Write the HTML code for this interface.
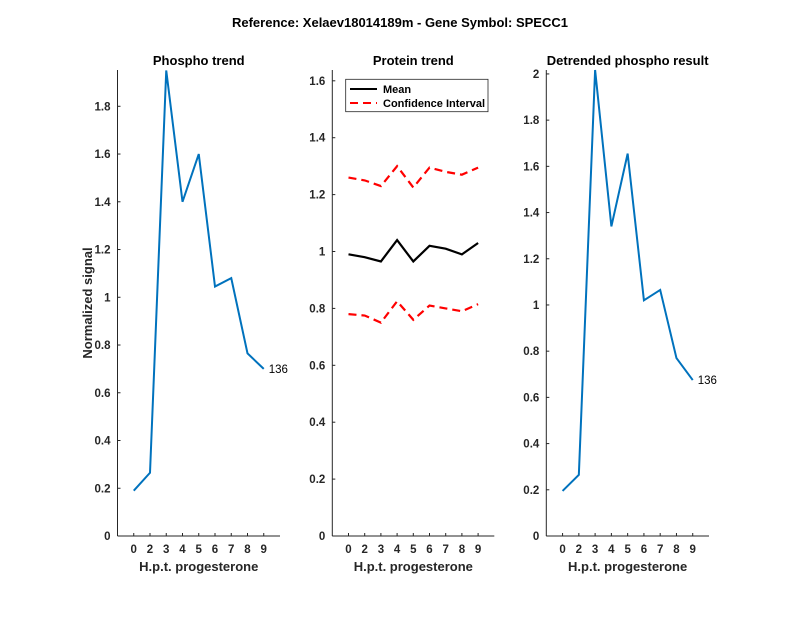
<!DOCTYPE html><html><head><meta charset="utf-8"><style>body{margin:0;background:#fff}svg{display:block;font-family:"Liberation Sans",sans-serif}</style></head><body>
<svg id="s" width="800" height="618" xmlns="http://www.w3.org/2000/svg">
<rect width="800" height="618" fill="#fff"/>
<text x="400" y="27" text-anchor="middle" font-size="13" font-weight="bold" fill="#000">Reference:  Xelaev18014189m - Gene Symbol:  SPECC1</text>
</svg>
<script>
const s=document.getElementById('s');let h='';
function P(o){const {L,R,B,T,ymax,step,nt,title}=o;const xs=i=>L+(R-L)*i/10, ys=v=>B-(B-T)*v/ymax;
h+=`<line x1="${L}" y1="${T}" x2="${L}" y2="${B}" stroke="#262626" stroke-width="1"/><line x1="${L}" y1="${B}" x2="${R}" y2="${B}" stroke="#262626"/>`;
for(let k=0;k<=nt;k++){const v=k*step,y=ys(v);let lab=(Math.round(v*10)/10).toString();
h+=`<line x1="${L}" y1="${y}" x2="${L+3}" y2="${y}" stroke="#262626"/><text x="${L-7}" y="${y+4}" text-anchor="end" font-size="11.5" font-weight="bold" fill="#262626">${lab}</text>`;}
['0','2','3','4','5','6','7','8','9'].forEach((t,i)=>{const x=xs(i+1);h+=`<line x1="${x}" y1="${B}" x2="${x}" y2="${B-3}" stroke="#262626"/><text x="${x}" y="${B+17}" text-anchor="middle" font-size="11.5" font-weight="bold" fill="#262626">${t}</text>`;});
h+=`<text x="${(L+R)/2}" y="${B+35}" text-anchor="middle" font-size="13" font-weight="bold" fill="#262626">H.p.t. progesterone</text>`;
h+=`<text x="${(L+R)/2}" y="65" text-anchor="middle" font-size="13" font-weight="bold" fill="#000">${title}</text>`;
(o.series||[]).forEach(([d,c,w,da])=>{h+=`<polyline fill="none" stroke="${c}" stroke-width="${w}" ${da?'stroke-dasharray="'+da+'"':''} points="${d.map((v,i)=>xs(i+1)+','+ys(v)).join(' ')}"/>`;});
if(o.lab){const d=o.series[0][0];h+=`<text x="${xs(9)+5}" y="${ys(d[8])+4}" font-size="11.5" fill="#000">136</text>`;}
}
P({L:117.5,R:280,B:536,T:70,ymax:1.952,step:0.2,nt:9,title:'Phospho trend',lab:1,series:[[[0.19,0.265,1.95,1.40,1.60,1.045,1.08,0.765,0.70],'#0072BD',2]]});
P({L:332.3,R:494.3,B:536,T:70,ymax:1.638,step:0.2,nt:8,title:'Protein trend',series:[[[0.99,0.98,0.965,1.04,0.965,1.02,1.01,0.99,1.03],'#000',2.2],[[1.26,1.25,1.23,1.30,1.225,1.295,1.28,1.27,1.295],'#f00',2.2,'8,5'],[[0.78,0.775,0.75,0.825,0.76,0.81,0.80,0.79,0.815],'#f00',2.2,'8,5']]});
P({L:546.3,R:709,B:536,T:70,ymax:2.017,step:0.2,nt:10,title:'Detrended phospho result',lab:1,series:[[[0.195,0.265,2.017,1.34,1.655,1.02,1.065,0.77,0.675],'#0072BD',2]]});
h+=`<text transform="translate(92,303) rotate(-90)" text-anchor="middle" font-size="13" font-weight="bold" fill="#262626">Normalized signal</text>`;
h+=`<rect x="345.7" y="79.3" width="142.3" height="32.4" fill="#fff" stroke="#262626" stroke-width="0.8"/>
<line x1="350" y1="89" x2="377" y2="89" stroke="#000" stroke-width="2"/><text x="383" y="93" font-size="11" font-weight="bold">Mean</text>
<line x1="350" y1="103" x2="377" y2="103" stroke="#f00" stroke-width="2" stroke-dasharray="8,5"/><text x="383" y="107" font-size="11" font-weight="bold">Confidence Interval</text>`;
s.insertAdjacentHTML('beforeend',h);
</script></body></html>
